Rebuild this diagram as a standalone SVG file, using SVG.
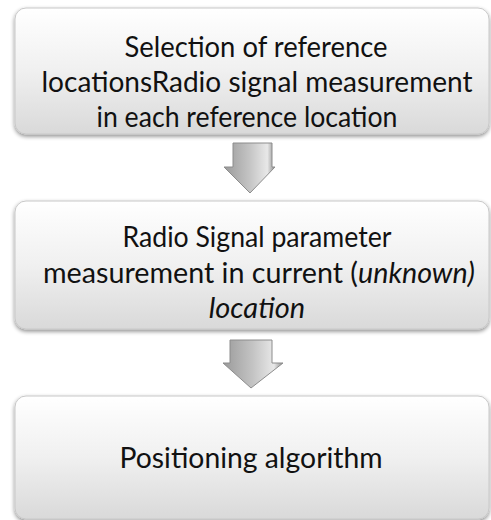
<svg xmlns="http://www.w3.org/2000/svg" width="491" height="520" viewBox="0 0 491 520">
<defs>
<linearGradient id="boxg" x1="0" y1="0" x2="0" y2="1">
<stop offset="0" stop-color="#ffffff"/>
<stop offset="0.5" stop-color="#f0f0f0"/>
<stop offset="1" stop-color="#d9d9d9"/>
</linearGradient>
<linearGradient id="arrg" x1="0" y1="0" x2="1" y2="0">
<stop offset="0" stop-color="#9a9a9a"/>
<stop offset="0.5" stop-color="#c4c4c4"/>
<stop offset="0.85" stop-color="#e8e8e8"/>
<stop offset="1" stop-color="#8a8a8a"/>
</linearGradient>
<filter id="sh" x="-5%" y="-5%" width="110%" height="115%">
<feGaussianBlur in="SourceAlpha" stdDeviation="2"/>
<feOffset dx="0" dy="2" result="b"/>
<feComponentTransfer><feFuncA type="linear" slope="0.45"/></feComponentTransfer>
<feMerge><feMergeNode/><feMergeNode in="SourceGraphic"/></feMerge>
</filter>
</defs>
<style>
.box{fill:url(#boxg);stroke:#c8c8c8;stroke-width:1;filter:url(#sh)}
.t{font-family:Lato,"Liberation Sans",sans-serif;font-size:29px;fill:#111;text-anchor:middle}
.arr{fill:url(#arrg);stroke:#8c8c8c;stroke-width:1}
</style>
<rect width="491" height="520" fill="#ffffff"/>
<g id="connectors">
<path class="arr" d="M233,143 L272,143 L272,167 L275,167 L250,193 L224,167 L233,167 Z"/>
<path class="arr" d="M230,340 L272,340 L272,363 L283,363 L251,388 L223,363 L230,363 Z"/>
</g>
<g id="node1">
<rect class="box" x="15" y="8" width="474" height="126" rx="11"/>
<text class="t" x="256" y="57" textLength="263" lengthAdjust="spacingAndGlyphs">Selection of reference</text>
<text class="t" x="257" y="92" textLength="431" lengthAdjust="spacingAndGlyphs">locationsRadio signal measurement</text>
<text class="t" x="247" y="127" textLength="301" lengthAdjust="spacingAndGlyphs">in each reference location</text>
</g>
<g id="node2">
<rect class="box" x="15" y="201" width="474" height="128" rx="11"/>
<text class="t" x="257" y="247" textLength="269" lengthAdjust="spacingAndGlyphs">Radio Signal parameter</text>
<text class="t" x="259" y="283" textLength="432" lengthAdjust="spacingAndGlyphs">measurement in current (<tspan font-style="italic">unknown)</tspan></text>
<text class="t" x="257" y="318" font-style="italic">location</text>
</g>
<g id="node3">
<rect class="box" x="15" y="396" width="474" height="123" rx="11"/>
<text class="t" x="251" y="468" textLength="263" lengthAdjust="spacingAndGlyphs">Positioning algorithm</text>
</g>
</svg>
